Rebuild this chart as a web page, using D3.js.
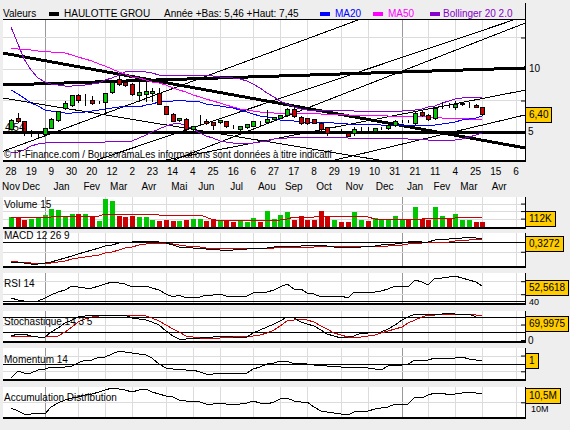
<!DOCTYPE html>
<html><head><meta charset="utf-8">
<script src="https://cdn.jsdelivr.net/npm/d3@7"></script>
<style>
body{margin:0;background:#eeeeee;}
text{font-family:"Liberation Sans",Arial,sans-serif;font-size:10px;fill:#000;}
</style></head><body><script>
// ---------------- DATA ----------------
const firstWeek = "2011-11-28";
const lastWeek = "2013-04-01";
const axisEnd = "2013-05-06";
const open = [5.26,6.11,5.85,4.92,4.84,4.87,5.32,5.93,6.90,7.17,
7.91,7.53,7.54,7.37,7.36,8.17,9.20,8.97,8.81,7.91,
8.02,8.10,8.10,7.04,6.43,5.93,6.06,5.26,5.84,5.90,
5.77,5.77,5.85,5.46,5.26,5.42,5.50,5.75,5.79,6.00,
6.13,6.33,6.80,6.21,6.09,6.00,5.74,5.37,5.01,5.17,
4.90,4.90,5.25,5.27,5.08,5.32,5.29,5.56,5.86,5.88,
5.69,6.59,6.35,6.09,7.11,7.18,7.01,7.22,7.21,7.14,6.96];
const high = [6.05,6.50,5.90,5.18,5.06,5.35,6.10,6.70,7.45,7.95,
7.98,8.00,7.85,7.45,8.12,9.00,9.55,9.05,8.90,9.02,
9.05,8.48,8.50,7.10,6.50,6.15,6.10,5.50,6.37,6.00,
5.80,5.97,5.88,5.55,5.48,5.65,5.90,5.85,6.75,6.22,
6.38,6.90,6.95,6.30,6.15,6.05,5.80,5.40,5.10,5.25,
4.95,5.42,5.40,5.38,5.32,5.38,5.60,5.95,5.98,5.98,
6.60,6.75,6.45,6.95,7.40,7.30,7.45,7.35,7.35,7.20,7.00];
const low = [5.20,5.80,4.79,4.66,4.54,4.80,5.30,5.90,6.85,7.10,
7.35,7.12,7.20,7.30,6.50,8.10,8.75,8.65,7.95,7.44,
7.45,7.44,7.20,6.40,5.85,5.85,5.06,5.15,5.58,5.65,
5.20,5.72,5.40,5.35,5.06,5.35,5.45,5.55,5.75,5.95,
6.10,6.30,6.20,5.60,5.60,5.70,5.15,4.80,4.90,5.05,
4.65,4.80,5.15,5.15,5.00,5.25,5.25,5.46,5.80,5.80,
5.65,6.25,5.95,6.05,6.90,7.00,6.85,7.15,7.00,7.00,6.35];
const close = [5.97,5.85,5.06,4.93,4.85,5.30,6.06,6.64,7.30,7.91,
7.52,7.54,7.30,7.38,8.10,8.97,8.83,8.71,8.02,8.17,
8.23,8.23,7.22,6.45,5.90,6.11,5.26,5.45,5.85,5.71,
5.58,5.93,5.45,5.45,5.45,5.61,5.87,5.74,6.00,6.17,
6.33,6.80,6.27,5.69,5.69,5.74,5.21,4.95,5.02,5.16,
4.68,5.21,5.26,5.26,5.29,5.33,5.56,5.87,5.87,5.87,
6.53,6.33,6.03,6.88,7.12,7.17,7.22,7.33,7.22,7.01,6.40];
const volumeK = [113,113,88,99,113,142,202,195,113,152,
152,152,124,70,312,283,124,113,124,113,
117,88,70,88,78,70,88,99,99,70,
96,81,70,60,81,60,106,60,184,99,
142,166,88,131,88,88,184,131,88,60,
60,166,81,70,106,81,96,124,96,81,
219,96,81,219,124,106,152,81,88,60,60];
const volumeMA = [117,117,117,117,117,117,117,128,128,128,
128,128,128,128,152,152,152,152,152,152,
152,152,134,134,134,134,134,134,134,113,
88,82,82,82,82,82,82,88,88,88,
88,96,117,117,117,117,124,124,124,124,
124,124,124,113,99,99,99,99,99,96,
96,96,106,106,106,106,106,113,113,113,112];
const ma20 = [8.33,8.00,7.70,7.30,7.05,6.77,6.65,6.55,6.52,6.53,
6.58,6.62,6.70,6.77,6.85,6.93,7.00,7.03,7.06,7.02,
7.13,7.25,7.36,7.44,7.49,7.53,7.49,7.43,7.36,7.25,
7.15,7.07,6.98,6.88,6.75,6.58,6.43,6.28,6.18,6.08,
5.99,5.92,5.87,5.83,5.82,5.80,5.80,5.77,5.73,5.71,
5.66,5.62,5.62,5.61,5.60,5.58,5.57,5.57,5.57,5.55,
5.56,5.54,5.53,5.59,5.66,5.73,5.83,5.95,6.06,6.15,6.24];
const ma50 = [11.67,11.62,11.56,11.50,11.45,11.40,11.36,11.32,11.27,11.10,
10.95,10.80,10.60,10.40,10.20,10.00,9.80,9.60,9.40,9.25,
9.10,8.97,8.85,8.70,8.50,8.33,8.15,7.95,7.75,7.60,
7.45,7.30,7.15,7.00,6.85,6.75,6.68,6.62,6.57,6.53,
6.51,6.50,6.50,6.50,6.49,6.48,6.46,6.44,6.42,6.40,
6.37,6.35,6.34,6.33,6.32,6.31,6.30,6.29,6.28,6.27,
6.25,6.23,6.20,6.17,6.15,6.13,6.10,6.08,6.06,6.03,6.00];
const bollUpper = [13.30,12.00,10.80,9.90,9.30,8.95,8.80,8.70,8.65,8.65,
8.70,8.75,8.80,8.90,9.10,9.30,9.55,9.75,9.85,9.85,
9.75,9.65,9.55,9.50,9.50,9.50,9.50,9.50,9.50,9.50,
9.45,9.40,9.35,9.30,9.20,9.05,8.80,8.50,8.10,7.75,
7.45,7.20,7.00,6.85,6.78,6.75,6.72,6.72,6.72,6.72,
6.72,6.70,6.70,6.70,6.70,6.68,6.68,6.68,6.70,6.72,
6.78,6.85,6.95,7.10,7.30,7.45,7.60,7.70,7.75,7.78,7.78];
const bollLower = [3.35,3.40,3.60,3.85,4.05,4.15,4.20,4.20,4.22,4.23,
4.23,4.23,4.23,4.23,4.24,4.25,4.25,4.25,4.30,4.50,
4.75,5.00,5.20,5.45,5.65,5.70,5.50,5.20,4.92,4.70,
4.50,4.30,4.20,4.15,4.13,4.13,4.15,4.20,4.30,4.42,
4.52,4.55,4.58,4.60,4.62,4.62,4.62,4.60,4.58,4.57,
4.55,4.52,4.52,4.52,4.52,4.52,4.52,4.52,4.50,4.48,
4.45,4.42,4.38,4.37,4.37,4.38,4.40,4.45,4.60,4.75,4.92];
const macdLine = [-1.97,-2.05,-2.12,-2.20,-2.18,-2.13,-1.98,-1.82,-1.64,-1.42,
-1.20,-0.99,-0.82,-0.65,-0.48,-0.32,-0.16,-0.07,0.00,0.06,
0.10,0.10,0.00,-0.16,-0.33,-0.49,-0.56,-0.61,-0.65,-0.70,
-0.75,-0.78,-0.80,-0.82,-0.77,-0.71,-0.65,-0.61,-0.58,-0.55,
-0.47,-0.40,-0.39,-0.39,-0.36,-0.34,-0.33,-0.45,-0.55,-0.57,
-0.58,-0.56,-0.55,-0.48,-0.40,-0.33,-0.27,-0.22,-0.16,-0.06,
0.02,0.00,0.00,0.17,0.22,0.27,0.33,0.38,0.43,0.40,0.33];
const macdSignal = [-1.90,-1.96,-2.02,-2.07,-2.11,-2.13,-2.06,-1.97,-1.87,-1.76,
-1.65,-1.54,-1.43,-1.31,-1.15,-0.99,-0.83,-0.66,-0.49,-0.37,
-0.26,-0.16,-0.15,-0.16,-0.24,-0.33,-0.41,-0.48,-0.55,-0.58,
-0.60,-0.62,-0.64,-0.65,-0.65,-0.65,-0.65,-0.65,-0.65,-0.60,
-0.55,-0.54,-0.52,-0.51,-0.50,-0.49,-0.48,-0.46,-0.45,-0.44,
-0.43,-0.42,-0.44,-0.46,-0.48,-0.49,-0.44,-0.38,-0.33,-0.25,
-0.16,-0.12,-0.08,-0.05,-0.03,0.00,0.05,0.12,0.17,0.21,0.24];
const rsi14 = [33.7,30.5,30,30,30,33.7,39,43,46.5,53,
50.6,49.5,49,52.6,56,58.3,57.7,55,51.5,52,
52.6,50,46.5,41,36,38.8,33.7,35,36,38,
39,40.3,37.2,37.2,37.2,37.2,42.3,43,43.8,47,
51,55.7,48,47.5,42,40,36,37,37.2,37.2,
33.7,43.8,42.3,43,44,45.4,48,52.6,52,51.5,
61.8,58,54.2,64.5,65.5,66.5,68,65,62,59.2,52.56];
const stochK = [13.9,19,18.4,12,8.7,10.6,26.8,40,53.9,65,
75.2,78,80.6,80.6,80.6,80.6,80.6,80.6,72,67,
64.5,57,48.4,30,12,3.2,4,5.5,8,9.5,
10.6,13.9,12,10.6,9.5,8.7,23.5,33,42.9,52,
62.3,75,70,59,52,45,32,20,12,7.5,
9,13,21.6,24,26.8,26.8,34.4,50,64.5,74,
83.9,83.9,83.9,83.9,84,86,85,84,83,75,70];
const stochD = [13.9,13.9,13.9,13.9,11,10.6,12.5,14,26.8,43,
59,68,75,78,80.6,80.6,80.6,80.6,80.6,80.6,
76,70,60,48.4,37,26.8,14,9,7,5.5,
6.5,8,9.5,10.6,11.5,12.5,13.9,17,21.6,32,
45,60,66,66.8,64.5,57,46,34,23,15,
10.6,10.6,10.6,12,17,21.6,28,36,42.9,55,
66,75,80.6,82,83,83.5,83.9,83.9,83.9,81,78.4];
const momentum14 = [-3.83,-1.91,-2.57,-2.57,-1.63,-1.34,-0.69,-1.14,-0.69,-0.49,
0.29,1.23,1.23,2.0,2.17,2.86,3.8,3.43,3.14,2.86,
2.66,1.71,0.0,-1.14,-1.34,-1.34,-1.63,-1.63,-2.1,-2.86,
-2.86,-2.57,-2.57,-2.57,-2.57,-2.57,-1.34,-0.69,0.0,0.29,
0.94,0.9,0.2,0.4,0.2,-0.1,-0.2,-0.35,-0.49,-0.8,
-1.14,-0.69,-0.8,-0.97,-1.3,-1.63,-0.5,-0.3,-0.2,0.0,
1.23,1.23,1.23,1.89,1.8,1.71,1.85,2.0,1.6,1.3,1.0];
const accDistM = [9.70,9.55,9.42,9.40,9.45,9.40,9.78,9.95,10.12,10.23,
10.28,10.37,10.40,10.53,10.62,10.70,10.65,10.60,10.53,10.62,
10.65,10.53,10.42,10.32,10.28,10.10,10.07,10.07,10.00,9.92,
9.93,9.95,9.90,9.87,9.90,9.95,10.07,9.98,9.92,10.03,
10.15,10.20,10.05,10.00,10.00,9.78,9.57,9.52,9.48,9.40,
9.37,9.53,9.56,9.58,9.68,9.73,9.78,9.90,9.90,9.90,
10.25,10.20,10.35,10.48,10.48,10.37,10.42,10.48,10.53,10.48,10.48];
const tickDates = ["2011-11-28","2011-12-19","2012-01-09","2012-01-30","2012-02-20","2012-03-12",
"2012-04-02","2012-04-23","2012-05-14","2012-06-04","2012-06-25","2012-07-16","2012-08-06",
"2012-08-27","2012-09-17","2012-10-08","2012-10-29","2012-11-19","2012-12-10","2012-12-31",
"2013-01-21","2013-02-11","2013-03-04","2013-03-25","2013-04-15","2013-05-06"];
const monthNames = ["Jan","Fev","Mar","Avr","Mai","Jun","Jul","Aou","Sep","Oct","Nov","Dec"];
// trend lines: two anchor points (date, price), extended across the panel
const trendStart = ["2011-11-28","2011-11-28","2011-11-28","2011-11-28","2011-11-28","2011-11-28","2011-11-28","2011-11-28","2011-11-28"];
const trendStartVal = [11.15,8.75,4.96,3.70,0.49,-2.27,7.59,0.39,-3.32];
const trendEnd = ["2013-04-01","2013-04-01","2013-04-01","2013-04-01","2013-04-01","2013-04-01","2013-04-01","2013-04-01","2013-04-01"];
const trendEndVal = [4.35,9.97,4.96,17.54,13.06,12.32,1.42,7.66,5.55];
const trendBold = [true,true,true,false,false,false,false,false,false];
const legendItems = ["MA20","MA50","Bollinger 20 2.0"];
const lastLabels = ["6,40","112K","0,3272","52,5618","69,9975","1","10,5M"];

// ---------------- LAYOUT ----------------
const W=570,H=430,L=3,R=525;
const parse=d3.timeParse("%Y-%m-%d");
const weeks=d3.timeMonday.range(parse(firstWeek), d3.timeDay.offset(parse(lastWeek),1));
const x=d3.scaleTime().domain([parse(firstWeek),parse(axisEnd)]).range([11,516]);
const P={main:[19,161],vol:[197,228],macd:[233,267],rsi:[273,304],sto:[311,342],mom:[348,380],ad:[387,418]};
const yMain=d3.scaleLinear().domain([2.698,13.968]).range([161,19]);
const yVol=d3.scaleLinear().domain([0,330]).range([228,197]);
const yMacd=d3.scaleLinear().domain([-2.5,0.85]).range([267,233]);
const yRsi=d3.scaleLinear().domain([24.92,72.6]).range([304,273]);
const ySto=d3.scaleLinear().domain([-6.45,93.55]).range([342,311]);
const yMom=d3.scaleLinear().domain([-4.486,4.657]).range([380,348]);
const yAd=d3.scaleLinear().domain([9.215,10.765]).range([418,387]);
const GREEN="#00c800",RED="#cc0000",BLUE="#0000ff",MAG="#ff00ff",PURP="#8800cc";

const svg=d3.select("body").append("svg").attr("width",W).attr("height",H);
svg.append("rect").attr("width",W).attr("height",H).attr("fill","#eeeeee");
const defs=svg.append("defs");
const px=v=>Math.round(v)+0.5;

// month grid lines (first Monday of each month)
const monthStarts=d3.timeMonth.range(parse("2012-01-01"),parse("2013-06-01"));
const monthLines=monthStarts.map(m=>d3.timeMonday.ceil(m));

function makePanel(key,top,bottom){
  const g=svg.append("g");
  g.append("rect").attr("x",L).attr("y",top).attr("width",R-L).attr("height",bottom-top).attr("fill","#fff");
  defs.append("clipPath").attr("id","c_"+key).append("rect").attr("x",L).attr("y",top).attr("width",R-L).attr("height",bottom-top);
  g.selectAll(null).data(monthLines.filter(d=>x(d)<R)).join("line")
    .attr("x1",d=>px(x(d))).attr("x2",d=>px(x(d))).attr("y1",top).attr("y2",bottom)
    .attr("stroke",d=>d.getMonth()===0?"#999999":"#dcdcdc").attr("stroke-width",1);
  const inner=g.append("g").attr("clip-path",`url(#c_${key})`);
  return {g,inner,top,bottom};
}
function hgrid(p,scale,vals,color){
  p.inner.selectAll(null).data(vals).join("line").attr("x1",L).attr("x2",R)
    .attr("y1",d=>px(scale(d))).attr("y2",d=>px(scale(d))).attr("stroke",color).attr("stroke-width",1);
}
function series(p,scale,vals,color,w){
  const line=d3.line().x((d,i)=>Math.round(x(weeks[i]))).y(d=>Math.round(scale(d)));
  p.inner.append("path").datum(vals).attr("d",line).attr("fill","none").attr("stroke",color)
    .attr("stroke-width",w||1).attr("shape-rendering","crispEdges");
}
function frame(p,scale,ticks){
  p.g.append("rect").attr("x",L).attr("y",p.bottom-1).attr("width",R-L+1).attr("height",2).attr("fill","#000");
  p.g.append("line").attr("x1",R+0.5).attr("x2",R+0.5).attr("y1",p.top).attr("y2",p.bottom+1).attr("stroke","#000");
  if(ticks){
    const ax=d3.axisLeft(scale).tickValues(ticks).tickSize(4).tickFormat("");
    const ag=p.g.append("g").attr("transform",`translate(${R},0)`).call(ax);
    ag.select(".domain").remove();
  }
}
function title(p,txt,baseline){ p.g.append("text").attr("x",4).attr("y",baseline).text(txt); }
function valueBox(txt,cy){
  const g=svg.append("g");
  const t=g.append("text").attr("x",R+4).attr("y",cy).attr("dy","0.35em").text(txt);
  const w=t.node().getComputedTextLength();
  g.insert("rect","text").attr("x",R+0.5).attr("y",Math.round(cy-7.5)+0.5).attr("width",Math.round(w+7)).attr("height",15)
    .attr("fill","#ffcc00").attr("stroke","#000");
}

// ---------------- MAIN PANEL ----------------
svg.append("line").attr("x1",R+0.5).attr("x2",R+0.5).attr("y1",3).attr("y2",19).attr("stroke","#000");
const lg=svg.append("g");
lg.append("text").attr("x",3).attr("y",16.5).text("Valeurs");
lg.append("rect").attr("x",49).attr("y",12).attr("width",10).attr("height",4).attr("fill","#000");
lg.append("text").attr("x",64).attr("y",16.5).text("HAULOTTE GROU");
lg.append("text").attr("x",164).attr("y",16.5).text("Année +Bas: 5,46 +Haut: 7,45");
const legendPos=[320,373,430], legendCol=[BLUE,MAG,PURP];
legendItems.forEach((n,i)=>{
  lg.append("rect").attr("x",legendPos[i]).attr("y",12).attr("width",10).attr("height",4).attr("fill",legendCol[i]);
  lg.append("text").attr("x",legendPos[i]+(i===2?13:15)).attr("y",16.5).style("fill",legendCol[i]).text(n);
});

const pm=makePanel("main",P.main[0],P.main[1]);
hgrid(pm,yMain,[12.5,10,7.5,5],"#dcdcdc");
trendStart.forEach((d,i)=>{
  const x1=x(parse(d)),y1=yMain(trendStartVal[i]),x2=x(parse(trendEnd[i])),y2=yMain(trendEndVal[i]);
  const s=(y2-y1)/(x2-x1);
  pm.inner.append("line").attr("x1",L).attr("y1",y1+s*(L-x1)).attr("x2",R).attr("y2",y1+s*(R-x1))
    .attr("stroke","#000").attr("stroke-width",trendBold[i]?3:1).attr("shape-rendering","crispEdges");
});
series(pm,yMain,bollUpper,PURP,1);
series(pm,yMain,bollLower,PURP,1);
series(pm,yMain,ma50,MAG,1);
series(pm,yMain,ma20,BLUE,1);
const cg=pm.inner.append("g");
weeks.forEach((w,i)=>{
  const cx=Math.round(x(w));
  cg.append("line").attr("x1",cx+0.5).attr("x2",cx+0.5).attr("y1",Math.round(yMain(high[i]))).attr("y2",Math.round(yMain(low[i]))+1)
    .attr("stroke","#000").attr("shape-rendering","crispEdges");
  const yt=Math.round(yMain(Math.max(open[i],close[i]))), yb=Math.round(yMain(Math.min(open[i],close[i])));
  cg.append("rect").attr("x",cx-2+0.5).attr("y",yt+0.5).attr("width",4).attr("height",Math.max(0,yb-yt))
    .attr("fill",close[i]>=open[i]?GREEN:RED).attr("stroke","#000").attr("shape-rendering","crispEdges");
});
pm.g.append("text").attr("x",5).attr("y",131).text("4,54");
pm.g.append("text").attr("x",4).attr("y",158).attr("textLength",328).attr("lengthAdjust","spacingAndGlyphs")
  .text("© IT-Finance.com / BoursoramaLes informations sont données à titre indicatif");
frame(pm,yMain,[12.5,10,7.5,5]);
svg.append("line").attr("x1",L).attr("x2",R).attr("y1",19.5).attr("y2",19.5).attr("stroke","#000");
svg.append("text").attr("x",529).attr("y",yMain(10)).attr("dy","0.35em").text("10");
svg.append("text").attr("x",528).attr("y",yMain(5)).attr("dy","0.35em").text("5");
valueBox(lastLabels[0],yMain(6.40));

// x axis labels
const tickX=tickDates.map(d=>x(parse(d)));
svg.selectAll(null).data(tickDates).join("text").attr("x",(d,i)=>tickX[i]).attr("y",175).attr("text-anchor","middle")
  .text(d=>String(+d.slice(8)));
const mStarts=d3.timeMonth.range(parse("2011-11-01"),parse("2013-06-01"));
mStarts.forEach(m=>{
  const a=x(d3.timeMonday.ceil(m)), b=x(d3.timeMonday.ceil(d3.timeMonth.offset(m,1)));
  let c=(a+b)/2;
  if(c>R) return;
  c=Math.max(c,11);
  svg.append("text").attr("x",c).attr("y",190).attr("text-anchor","middle").text(monthNames[m.getMonth()]);
});

// ---------------- VOLUME ----------------
const pv=makePanel("vol",P.vol[0],P.vol[1]);
hgrid(pv,yVol,[100,180,260],"#dcdcdc");
pv.inner.selectAll(null).data(volumeK).join("rect")
  .attr("x",(d,i)=>Math.round(x(weeks[i]))-2).attr("width",5)
  .attr("y",d=>Math.round(yVol(d))).attr("height",d=>228-Math.round(yVol(d)))
  .attr("fill",(d,i)=>close[i]>=open[i]?GREEN:RED);
series(pv,yVol,volumeMA,RED,1);
frame(pv,yVol,[100,180,260]);
title(pv,"Volume 15",208);
valueBox(lastLabels[1],218.3);

// ---------------- MACD ----------------
const pc=makePanel("macd",P.macd[0],P.macd[1]);
hgrid(pc,yMacd,[-1],"#dcdcdc");
hgrid(pc,yMacd,[0],"#000");
series(pc,yMacd,macdSignal,RED,1);
series(pc,yMacd,macdLine,"#000",1);
frame(pc,yMacd,[-1]);
title(pc,"MACD 12 26 9",239);
valueBox(lastLabels[2],243.3);

// ---------------- RSI ----------------
const pr=makePanel("rsi",P.rsi[0],P.rsi[1]);
hgrid(pr,yRsi,[40,60],"#dcdcdc");
hgrid(pr,yRsi,[30],"#000");
series(pr,yRsi,rsi14,"#000",1);
frame(pr,yRsi,[40,60]);
title(pr,"RSI 14",287);
svg.append("text").attr("x",529).attr("y",302).attr("dy","0.35em").style("font-size","9px").text("40");
valueBox(lastLabels[3],287.5);

// ---------------- STOCHASTIC ----------------
const ps=makePanel("sto",P.sto[0],P.sto[1]);
hgrid(ps,ySto,[50],"#dcdcdc");
hgrid(ps,ySto,[25,75],"#000");
series(ps,ySto,stochD,RED,1);
series(ps,ySto,stochK,"#000",1);
frame(ps,ySto,[0,50]);
title(ps,"Stochastique 14 3 5",325);
svg.append("text").attr("x",528).attr("y",ySto(0)+0.5).attr("dy","0.35em").text("0");
valueBox(lastLabels[4],323);

// ---------------- MOMENTUM ----------------
const pmo=makePanel("mom",P.mom[0],P.mom[1]);
hgrid(pmo,yMom,[2.5,-2],"#dcdcdc");
hgrid(pmo,yMom,[0],"#000");
series(pmo,yMom,momentum14,"#000",1);
frame(pmo,yMom,[2.5,-2]);
title(pmo,"Momentum 14",363);
valueBox(lastLabels[5],360.8);

// ---------------- ACC / DIST ----------------
const pa=makePanel("ad",P.ad[0],P.ad[1]);
hgrid(pa,yAd,[10],"#dcdcdc");
series(pa,yAd,accDistM,"#000",1);
frame(pa,yAd,[10]);
title(pa,"Accumulation Distribution",401);
svg.append("text").attr("x",531).attr("y",409).attr("dy","0.35em").style("font-size","9px").text("10M");
valueBox(lastLabels[6],395);
</script></body></html>
